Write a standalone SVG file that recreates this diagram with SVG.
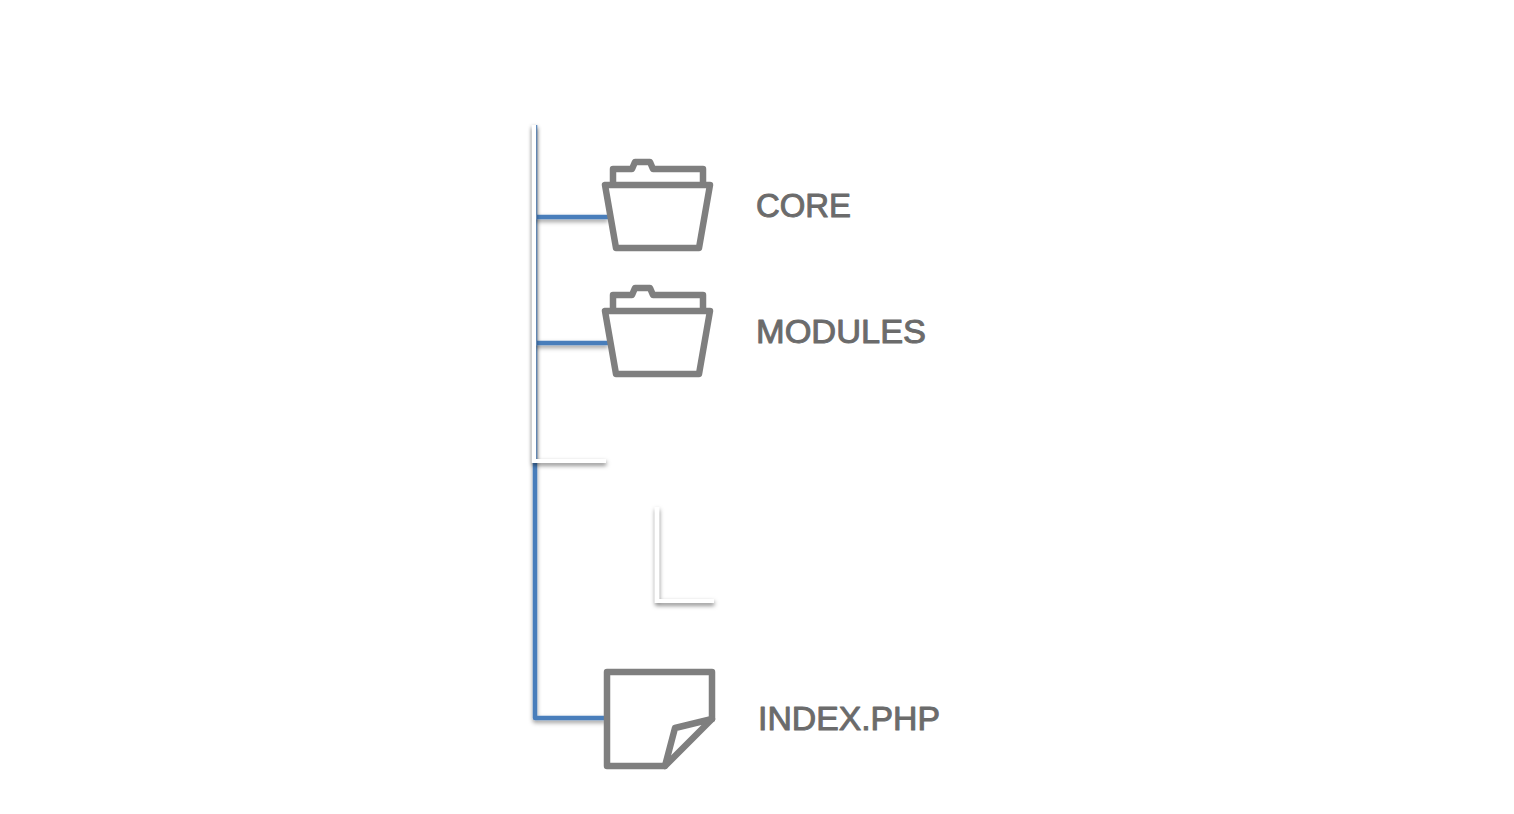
<svg xmlns="http://www.w3.org/2000/svg" width="1514" height="814" viewBox="0 0 1514 814">
<defs>
<filter id="sh2" x="520" y="110" width="220" height="520" filterUnits="userSpaceOnUse"><feDropShadow dx="0.3" dy="2.5" stdDeviation="2" flood-color="#000" flood-opacity="0.5"/></filter>
<filter id="sh3" x="520" y="110" width="220" height="660" filterUnits="userSpaceOnUse"><feDropShadow dx="0" dy="2.5" stdDeviation="2" flood-color="#000" flood-opacity="0.4"/></filter>
</defs>
<style>
.blue{fill:none;stroke:#4a7ebb;stroke-width:4.5;stroke-linejoin:round}
.white{fill:none;stroke:#fff;stroke-width:4.2;stroke-linejoin:miter}
.icon{fill:none;stroke:#7f7f7f;stroke-width:6.5;stroke-linejoin:round;stroke-linecap:round}
.label{font-family:"Liberation Sans","DejaVu Sans",sans-serif;font-size:34px;fill:#6b6b6b;stroke:#6b6b6b;stroke-width:1;stroke-linejoin:round}
</style>
<rect width="1514" height="814" fill="#fff"/>
<g id="connectors">
<path class="blue" filter="url(#sh3)" d="M535 125V718H606"/>
<path class="blue" filter="url(#sh3)" d="M535 217H608"/>
<path class="blue" filter="url(#sh3)" d="M535 343H608"/>
<path class="white" filter="url(#sh2)" d="M534 125V461H606"/>
<path class="white" filter="url(#sh2)" d="M657 507V601H714"/>
</g>
<g id="core">
<path class="icon" d="M613 183V169H632L635 162H650L653 169H703V183"/>
<path class="icon" d="M605 185H710L699 248H616Z"/>
<text class="label" x="756" y="217" textLength="95" lengthAdjust="spacingAndGlyphs">CORE</text>
</g>
<g id="modules">
<path class="icon" d="M613 309V295H632L635 288H650L653 295H703V309"/>
<path class="icon" d="M605 311H710L699 374H616Z"/>
<text class="label" x="756" y="343" textLength="170" lengthAdjust="spacingAndGlyphs">MODULES</text>
</g>
<g id="index">
<path class="icon" d="M607 672H712V719L665 766H607Z"/>
<path class="icon" d="M712 719L675 728L665 766"/>
<text class="label" x="758" y="730" textLength="182" lengthAdjust="spacingAndGlyphs">INDEX.PHP</text>
</g>
</svg>
